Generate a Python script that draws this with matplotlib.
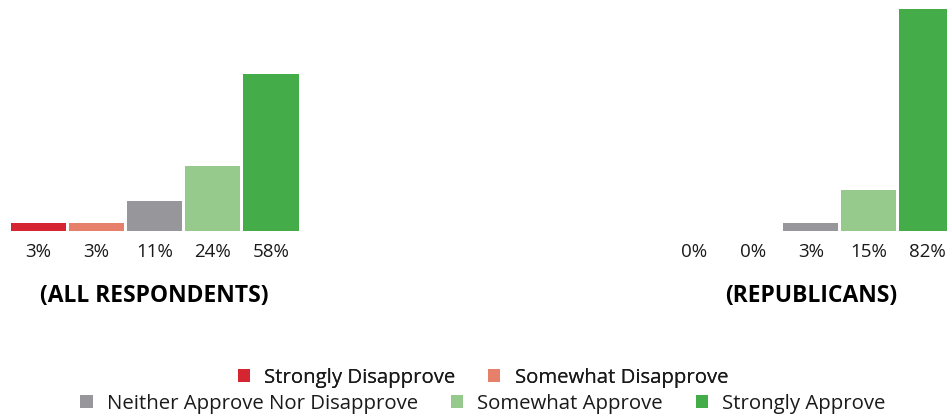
import matplotlib.pyplot as plt

# Survey responses (percent)
categories = ["Strongly Disapprove", "Somewhat Disapprove",
              "Neither Approve Nor Disapprove", "Somewhat Approve", "Strongly Approve"]
all_respondents = [3, 3, 11, 24, 58]
republicans = [0, 0, 3, 15, 82]
panel_titles = ["(ALL RESPONDENTS)", "(REPUBLICANS)"]
colors = ["#d52530", "#e6806a", "#97969b", "#96c98c", "#45ac4a"]

W, H = 947, 419
plt.rcParams['font.family'] = ['Open Sans', 'DejaVu Sans']

fig = plt.figure(figsize=(W / 100, H / 100), dpi=100)


def px_axes(left, right, top, bottom):
    """axes from pixel edges (y measured from the top of the image)"""
    return fig.add_axes([left / W, 1 - bottom / H, (right - left) / W, (bottom - top) / H])


ax_all = px_axes(9.5, 300, 231 - 85 * 2.71, 231)
ax_rep = px_axes(665.5, 956, 231 - 85 * 2.71, 231)

handles = None
for ax, values, title in [(ax_all, all_respondents, panel_titles[0]),
                          (ax_rep, republicans, panel_titles[1])]:
    x = range(len(values))
    bars = ax.bar(x, values, width=0.95, color=colors, label=categories)
    if handles is None:
        handles = bars
    ax.set_xlim(-0.5, len(values) - 0.5)
    ax.set_ylim(0, 85)
    ax.axis("off")
    for i, v in enumerate(values):
        ax.annotate(f"{v}%", (i, 0), xytext=(0, -21), textcoords="offset pixels",
                    ha="center", va="center", fontsize=13.5, color="#1a1a1a")
    ax.annotate(title, (2, 0), xytext=(0, -65), textcoords="offset pixels",
                ha="center", va="center", fontsize=16.5, fontweight="bold", color="black")

leg_kw = dict(loc="center", frameon=False, handlelength=0.6, handleheight=0.6,
              handletextpad=0.7, columnspacing=1.6, fontsize=14.7, borderpad=0,
              labelcolor="#1a1a1a")
leg1 = fig.legend(handles[:2], categories[:2], ncol=2,
                  bbox_to_anchor=(483 / W, 1 - 378 / H), **leg_kw)
fig.add_artist(leg1)
fig.legend(handles[2:], categories[2:], ncol=3,
           bbox_to_anchor=(483 / W, 1 - 404 / H), **leg_kw)

fig.savefig("out.png", dpi=100)
